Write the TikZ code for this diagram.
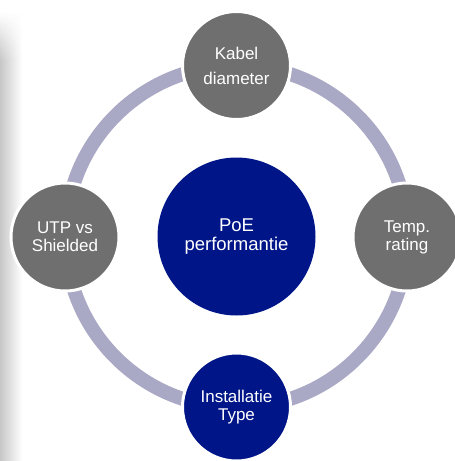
\documentclass[tikz,border=0pt]{standalone}
\usepackage{fontspec}
\setmainfont{Liberation Sans}
\usetikzlibrary{fadings}
\definecolor{ringcol}{RGB}{169,169,198}
\definecolor{satgray}{RGB}{111,111,111}
\definecolor{navy}{RGB}{0,22,136}
\tikzfading[name=fadetop, top color=transparent!100, bottom color=transparent!0]
\begin{document}
\begin{tikzpicture}[x=1pt,y=-1pt,
  sat/.style={circle, minimum size=108pt, inner sep=0pt, draw=white, line width=3pt,
    text=white, align=center, font=\fontsize{17}{18}\selectfont},
  graysat/.style={sat, fill=satgray},
  navysat/.style={sat, fill=navy},
  hub/.style={circle, minimum size=158pt, inner sep=0pt, fill=navy, text=white,
    align=center, font=\fontsize{18.5}{19.5}\selectfont},
  ring/.style={draw=ringcol, line width=14pt}]
\clip (0,0) rectangle (455,461);
\useasboundingbox (0,0) rectangle (455,461);
\fill[white] (0,0) rectangle (455,461);
% left shadow
\shade[left color=black!22, right color=white] (0,60) rectangle (22,461);
\shade[left color=black!22, right color=white, path fading=fadetop] (0,12) rectangle (22,60.5);
\node[hub] (c) at (236.5,236.5) {PoE\\performantie};
\coordinate (cc) at (236.5,236.5);
\draw[ring] (cc) circle (171pt);
\node[graysat, font=\fontsize{17}{25}\selectfont] (t) at (236.5,65.5) {Kabel\\diameter};
\node[graysat] (r) at (407,237) {Temp.\\rating};
\node[navysat] (b) at (236.5,407) {Installatie\\Type};
\node[graysat] (l) at (65,237) {UTP vs\\Shielded};
\end{tikzpicture}
\end{document}
